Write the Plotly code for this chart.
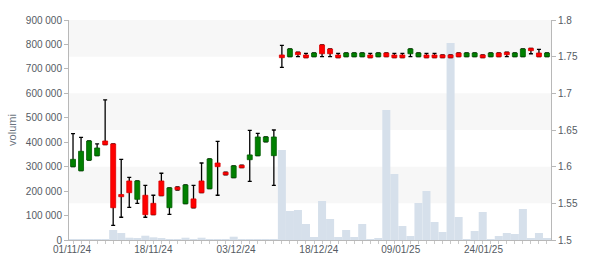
import plotly.graph_objects as go

dates = [
    "2024-11-01", "2024-11-04", "2024-11-05", "2024-11-06", "2024-11-07", "2024-11-08",
    "2024-11-11", "2024-11-12", "2024-11-13", "2024-11-14", "2024-11-15", "2024-11-18",
    "2024-11-19", "2024-11-20", "2024-11-21", "2024-11-22", "2024-11-25", "2024-11-26",
    "2024-11-27", "2024-11-28", "2024-11-29", "2024-12-02", "2024-12-03", "2024-12-04",
    "2024-12-05", "2024-12-06", "2024-12-09", "2024-12-10", "2024-12-11", "2024-12-12",
    "2024-12-13", "2024-12-16", "2024-12-17", "2024-12-18", "2024-12-19", "2024-12-20",
    "2024-12-23", "2024-12-27", "2024-12-30", "2025-01-02", "2025-01-03", "2025-01-06",
    "2025-01-07", "2025-01-08", "2025-01-09", "2025-01-10", "2025-01-13", "2025-01-14",
    "2025-01-15", "2025-01-16", "2025-01-17", "2025-01-20", "2025-01-21", "2025-01-22",
    "2025-01-23", "2025-01-24", "2025-01-27", "2025-01-28", "2025-01-29", "2025-01-30",
]

opens = [1.600, 1.5945, 1.609, 1.615, 1.635, 1.631, 1.562, 1.5805, 1.5555, 1.561,
         1.550, 1.5805, 1.544, 1.572, 1.5495, 1.556, 1.5805, 1.570, 1.605, 1.5923,
         1.585, 1.6018, 1.6095, 1.615, 1.634, 1.615, 1.7523, 1.750, 1.756, 1.7523,
         1.750, 1.766, 1.7605, 1.7523, 1.750, 1.750, 1.750, 1.7523, 1.750, 1.755,
         1.7523, 1.7523, 1.754, 1.750, 1.7523, 1.7523, 1.7523, 1.7523, 1.755, 1.750,
         1.750, 1.7523, 1.750, 1.755, 1.756, 1.750, 1.750, 1.7614, 1.755, 1.750]
highs = [1.645, 1.640, 1.635, 1.631, 1.691, 1.631, 1.610, 1.5855, 1.5805, 1.5745,
         1.561, 1.591, 1.571, 1.5725, 1.575, 1.5745, 1.605, 1.6105, 1.6345, 1.5925,
         1.601, 1.602, 1.6495, 1.6455, 1.6405, 1.650, 1.7655, 1.7605, 1.756, 1.7545,
         1.755, 1.766, 1.7605, 1.7545, 1.755, 1.755, 1.755, 1.7545, 1.755, 1.755,
         1.7545, 1.7545, 1.7605, 1.755, 1.7545, 1.7545, 1.7523, 1.7523, 1.755, 1.755,
         1.755, 1.7523, 1.755, 1.755, 1.756, 1.755, 1.7605, 1.7614, 1.760, 1.755]
lows = [1.600, 1.5945, 1.609, 1.615, 1.630, 1.520, 1.531, 1.5445, 1.550, 1.531,
        1.5345, 1.5605, 1.535, 1.568, 1.5495, 1.544, 1.5645, 1.570, 1.561, 1.589,
        1.585, 1.5986, 1.580, 1.615, 1.634, 1.5745, 1.7355, 1.750, 1.750, 1.7486,
        1.750, 1.750, 1.750, 1.7486, 1.750, 1.750, 1.750, 1.7486, 1.750, 1.750,
        1.7486, 1.7486, 1.750, 1.750, 1.7486, 1.7486, 1.7486, 1.7486, 1.750, 1.750,
        1.750, 1.7486, 1.750, 1.750, 1.750, 1.750, 1.750, 1.754, 1.750, 1.750]
closes = [1.610, 1.621, 1.635, 1.6255, 1.630, 1.544, 1.559, 1.5645, 1.5805, 1.5345,
          1.5345, 1.5605, 1.571, 1.5686, 1.575, 1.544, 1.5645, 1.6105, 1.600, 1.589,
          1.601, 1.5986, 1.616, 1.6405, 1.6405, 1.6405, 1.7486, 1.7605, 1.7527, 1.7486,
          1.755, 1.754, 1.754, 1.7486, 1.755, 1.755, 1.755, 1.7486, 1.755, 1.750,
          1.7486, 1.7486, 1.7605, 1.755, 1.7486, 1.7486, 1.7486, 1.7486, 1.750, 1.755,
          1.755, 1.7486, 1.755, 1.750, 1.7527, 1.755, 1.7605, 1.7582, 1.750, 1.755]
volumes = [3000, 3000, 3000, 3000, 3000, 41000, 28600, 9400, 5000, 17600,
           11000, 5000, 4000, 3000, 9400, 3000, 9400, 3000, 3000, 3000,
           13500, 3000, 3000, 3000, 3000, 3000, 368000, 118600, 122700, 65500,
           12300, 159500, 85900, 12300, 40900, 12300, 65500, 4000, 8000, 531800,
           270000, 57300, 16400, 151400, 200500, 73600, 32700, 806000, 94100, 4000,
           36800, 114500, 4000, 16400, 28600, 24500, 126800, 8000, 28600, 8000]

tick_every = 11
label_positions = [-0.13, 10.0, 20.3, 30.6, 40.8, 51.1]
vol_ticks = [0, 100000, 200000, 300000, 400000, 500000, 600000, 700000, 800000, 900000]
price_ticks = [1.5, 1.55, 1.6, 1.65, 1.7, 1.75, 1.8]
band_ranges = [(1.55, 1.6), (1.65, 1.7), (1.75, 1.8)]

idx = list(range(len(dates)))
tick_labels = []
for d in dates[::tick_every]:
    y, m, dd = d.split("-")
    tick_labels.append(f"{dd}/{m}/{y[2:]}")

GREEN = "#008000"
RED = "#ff0000"
body_colors = [GREEN if c >= o else RED for o, c in zip(opens, closes)]
body_lines = ["#005c00" if c >= o else "#d80000" for o, c in zip(opens, closes)]

fig = go.Figure()

fig.add_trace(go.Bar(
    x=idx, y=volumes, width=1.0, marker=dict(color="#d6e0eb", line=dict(width=0)),
    xaxis="x", yaxis="y", hoverinfo="skip", showlegend=False,
))

fig.add_trace(go.Scatter(
    x=idx, y=[(h + l) / 2 for h, l in zip(highs, lows)], mode="markers",
    marker=dict(size=2, color="rgba(0,0,0,0)"),
    error_y=dict(type="data", symmetric=True,
                 array=[(h - l) / 2 for h, l in zip(highs, lows)],
                 color="black", thickness=1.3, width=2),
    xaxis="x", yaxis="y2", hoverinfo="skip", showlegend=False,
))

fig.add_trace(go.Bar(
    x=idx, y=[c - o for o, c in zip(opens, closes)], base=opens, width=0.62,
    marker=dict(color=body_colors, line=dict(color=body_lines, width=0.8)),
    xaxis="x", yaxis="y3", hoverinfo="skip", showlegend=False,
))

shapes = []
for lo, hi in band_ranges:
    shapes.append(dict(type="rect", xref="paper", x0=0, x1=1, yref="y2", y0=lo, y1=hi,
                       fillcolor="#f7f7f7", line=dict(width=0), layer="below"))

axis_col = "#b8b8b8"
tick_font = dict(family="Liberation Sans, Arial, sans-serif", size=10, color="#555b63")

fig.update_layout(
    width=600, height=270,
    margin=dict(l=60, r=49, t=20, b=30),
    paper_bgcolor="white", plot_bgcolor="white",
    separators=". ",
    barmode="overlay",
    shapes=shapes,
    font=tick_font,
    xaxis=dict(
        range=[-0.5, len(dates) - 0.5], tickmode="array", tickvals=label_positions,
        ticktext=tick_labels, ticks="", showgrid=False, zeroline=False,
        showline=True, linecolor=axis_col, linewidth=1, tickfont=tick_font,
        minor=dict(tickmode="linear", tick0=0, dtick=1, ticks="outside", ticklen=3,
                   tickcolor="#c8c8c8", showgrid=False),
    ),
    yaxis=dict(
        range=[0, 900000], tickmode="array", tickvals=vol_ticks, tickformat=",d",
        ticks="outside", ticklen=4, tickcolor=axis_col, showgrid=False, zeroline=False,
        showline=True, linecolor=axis_col, linewidth=1, tickfont=tick_font,
        title=dict(text="volumi", font=dict(family="Liberation Sans, Arial, sans-serif",
                                            size=11, color="#6b7480"), standoff=6),
    ),
    yaxis2=dict(
        range=[1.5, 1.8], overlaying="y", side="right", tickmode="array",
        tickvals=price_ticks, tickformat=".2~f", ticks="outside", ticklen=4,
        tickcolor=axis_col, showgrid=False, zeroline=False, showline=True,
        linecolor=axis_col, linewidth=1, tickfont=tick_font,
    ),
    yaxis3=dict(range=[1.5, 1.8], overlaying="y", visible=False),
)

fig.write_html("out.html")
